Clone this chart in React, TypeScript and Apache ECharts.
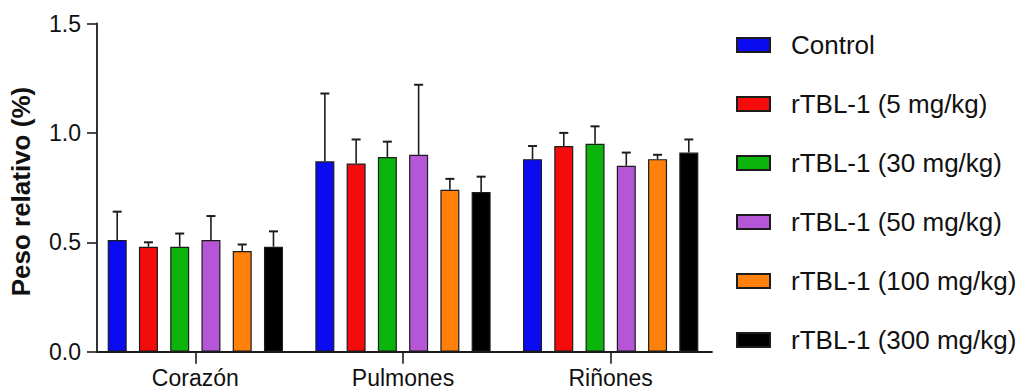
import React, { useEffect, useRef } from "react";
import * as echarts from "echarts";

const categories = ["Corazón", "Pulmones", "Riñones"];
const seriesNames = [
  "Control",
  "rTBL-1 (5 mg/kg)",
  "rTBL-1 (30 mg/kg)",
  "rTBL-1 (50 mg/kg)",
  "rTBL-1 (100 mg/kg)",
  "rTBL-1 (300 mg/kg)",
];
const colors = ["#0b0bf2", "#f40b0b", "#0bb40b", "#b556d6", "#ff800a", "#000000"];

// mean values per organ (Corazón, Pulmones, Riñones)
const control = [0.51, 0.87, 0.88];
const mg5 = [0.48, 0.86, 0.94];
const mg30 = [0.48, 0.89, 0.95];
const mg50 = [0.51, 0.9, 0.85];
const mg100 = [0.46, 0.74, 0.88];
const mg300 = [0.48, 0.73, 0.91];

// upper error (SD) per organ
const controlErr = [0.13, 0.31, 0.06];
const mg5Err = [0.02, 0.11, 0.06];
const mg30Err = [0.06, 0.07, 0.08];
const mg50Err = [0.11, 0.32, 0.06];
const mg100Err = [0.03, 0.05, 0.02];
const mg300Err = [0.07, 0.07, 0.06];

const yTicks = [0, 0.5, 1.0, 1.5];

const means = [control, mg5, mg30, mg50, mg100, mg300];
const errs = [controlErr, mg5Err, mg30Err, mg50Err, mg100Err, mg300Err];

const FONT = "'Liberation Sans', Arial, sans-serif";
const BAR_W = 19;
const BAR_GAP = 0.645;
const INK = "#1c1c1c";

export default function App() {
  const ref = useRef<HTMLDivElement>(null);
  useEffect(() => {
    document.body.style.margin = "0";
    const chart = echarts.init(ref.current!, undefined, { renderer: "svg" });
    const n = seriesNames.length;
    const barSeries = seriesNames.map((name, i) => ({
      name,
      type: "bar",
      xAxisIndex: 0,
      yAxisIndex: 0,
      data: means[i],
      barWidth: BAR_W,
      barGap: (BAR_GAP * 100).toFixed(1) + "%",
      itemStyle: { color: colors[i], borderColor: INK, borderWidth: 1.2 },
      emphasis: { disabled: true },
    }));
    const errData: number[][] = [];
    means.forEach((arr, s) => {
      arr.forEach((v, c) => errData.push([c, s, v, errs[s][c]]));
    });
    const errSeries = {
      name: "err",
      type: "custom",
      xAxisIndex: 0,
      yAxisIndex: 0,
      data: errData,
      encode: { x: 0, y: 2 },
      z: 5,
      renderItem: (params: any, api: any) => {
        const c = api.value(0);
        const s = api.value(1);
        const v = api.value(2);
        const e = api.value(3);
        const base = api.coord([c, v]);
        const top = api.coord([c, v + e]);
        const step = BAR_W * (1 + BAR_GAP);
        const x = base[0] + (s - (n - 1) / 2) * step;
        return {
          type: "group",
          children: [
            {
              type: "line",
              shape: { x1: x, y1: base[1], x2: x, y2: top[1] },
              style: { stroke: INK, lineWidth: 1.6 },
            },
            {
              type: "line",
              shape: { x1: x - 4.5, y1: top[1], x2: x + 4.5, y2: top[1] },
              style: { stroke: INK, lineWidth: 2 },
            },
          ],
        };
      },
    };
    chart.setOption({
      animation: false,
      textStyle: { fontFamily: FONT },
      grid: [
        { left: 91.5, right: 313.5, top: 23.5, bottom: 40.3 },
        { left: 96, right: 316, top: 23.5, bottom: 40.3 },
      ],
      legend: {
        data: seriesNames,
        orient: "vertical",
        left: 731,
        top: 27,
        itemWidth: 33,
        itemHeight: 14,
        itemGap: 33,
        icon: "rect",
        selectedMode: false,
        textStyle: { fontSize: 26, color: "#111", fontFamily: FONT, padding: [0, 0, 0, 16] },
      },
      xAxis: [
        {
          type: "category",
          gridIndex: 0,
          data: categories,
          axisLine: { show: false },
          axisTick: { show: true, alignWithLabel: true, length: 12, lineStyle: { color: INK, width: 1.6 } },
          axisLabel: { fontSize: 23, color: "#111", margin: 15, fontFamily: FONT },
          splitLine: { show: false },
        },
        {
          type: "category",
          gridIndex: 1,
          data: categories,
          axisLine: { show: true, lineStyle: { color: INK, width: 1.8 } },
          axisTick: { show: false },
          axisLabel: { show: false },
          splitLine: { show: false },
        },
      ],
      yAxis: [
        {
          type: "value",
          gridIndex: 0,
          min: 0,
          max: 1.5,
          interval: 0.5,
          show: false,
          splitLine: { show: false },
        },
        {
          type: "value",
          gridIndex: 1,
          min: 0,
          max: 1.5,
          interval: 0.5,
          name: "Peso relativo (%)",
          nameLocation: "middle",
          nameGap: 63,
          nameTextStyle: {
            fontSize: 26,
            fontWeight: "bold",
            color: "#111",
            fontFamily: FONT,
            padding: [0, 8, 0, 0],
          },
          axisLine: { show: true, lineStyle: { color: INK, width: 1.8 } },
          axisTick: { show: true, length: 10, lineStyle: { color: INK, width: 1.6 } },
          axisLabel: {
            fontSize: 23,
            color: "#111",
            margin: 16,
            fontFamily: FONT,
            formatter: (v: number) => (yTicks.includes(v) ? v.toFixed(1) : ""),
          },
          splitLine: { show: false },
        },
      ],
      series: [...barSeries, errSeries],
    });
    return () => chart.dispose();
  }, []);
  return <div ref={ref} style={{ width: 1028, height: 392 }} />;
}
